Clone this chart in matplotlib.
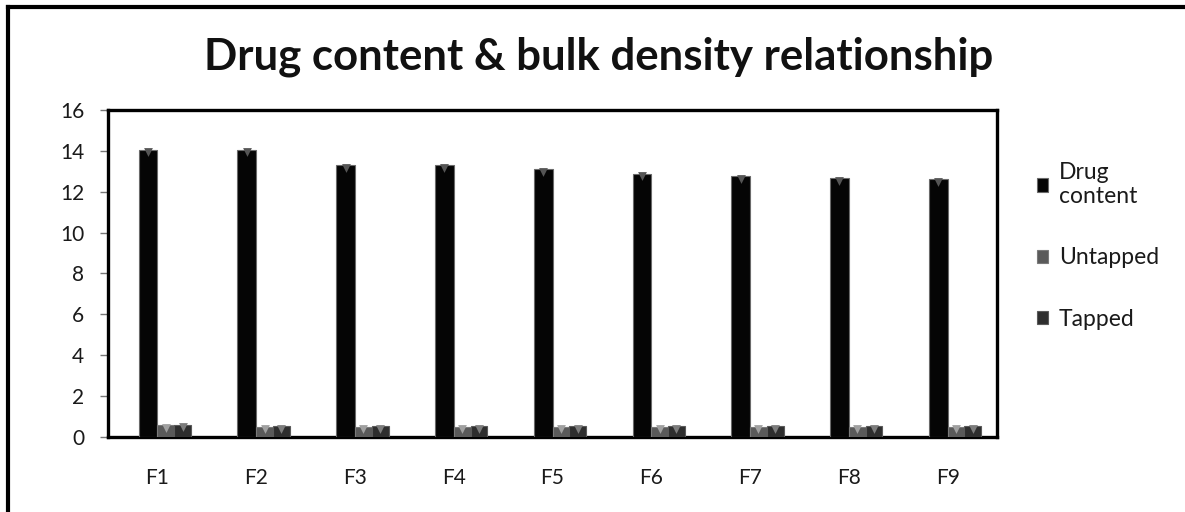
import numpy as np
import matplotlib
matplotlib.use('Agg')
import matplotlib.pyplot as plt
from matplotlib.lines import Line2D
from matplotlib.patches import Patch

# ---------------------------------------------------------
# Data
# ---------------------------------------------------------
formulations = ['F1', 'F2', 'F3', 'F4', 'F5', 'F6', 'F7', 'F8', 'F9']
drug_content = [14.05, 14.05, 13.3, 13.3, 13.1, 12.87, 12.75, 12.65, 12.6]
untapped = [0.58, 0.5, 0.5, 0.5, 0.5, 0.5, 0.5, 0.5, 0.5]
tapped = [0.6, 0.52, 0.52, 0.52, 0.52, 0.52, 0.52, 0.52, 0.52]
series_names = ['Drug\ncontent', 'Untapped', 'Tapped']
y_ticks = [0, 2, 4, 6, 8, 10, 12, 14, 16]

plt.rcParams['font.family'] = ['Lato', 'DejaVu Sans']

fig = plt.figure(figsize=(11.85, 5.12), dpi=100)
ax = fig.add_axes([0.0911, 0.1465, 0.7503, 0.6387])

x = np.arange(len(formulations))
w_main = 0.19
w_small = 0.17

# (face colour, edge colour, bevel colour) per series
styles = [('#050505', '#6a6a6a', '#555555'),
          ('#5a5a5a', '#7a7a7a', '#a0a0a0'),
          ('#2e2e2e', '#5a5a5a', '#7c7c7c')]

offsets = [-w_main / 2, w_small / 2, w_small * 1.5]
widths = [w_main, w_small, w_small]
for vals, off, wd, (fc, ec, bc) in zip([drug_content, untapped, tapped], offsets, widths, styles):
    ax.bar(x + off, vals, width=wd, color=fc, edgecolor=ec, linewidth=0.8, zorder=3)
    # little bevel triangle at the top of each bar
    ax.scatter(x + off, np.array(vals) - 0.12, marker='v', s=40, color=bc,
               linewidths=0, zorder=4)

ax.set_xlim(-0.5, len(formulations) - 0.5)
ax.set_ylim(0, 16)
ax.set_yticks(y_ticks)
ax.set_xticks(x)
ax.set_xticklabels(formulations)

for side in ['left', 'right', 'top', 'bottom']:
    ax.spines[side].set_linewidth(2.4)
    ax.spines[side].set_color('black')

ax.tick_params(axis='y', length=6, width=1, color='#777777', pad=11,
               labelsize=15, labelcolor='#1a1a1a')
ax.tick_params(axis='x', length=0, pad=22, labelsize=15, labelcolor='#1a1a1a')

fig.suptitle('Drug content & bulk density relationship', x=0.505, y=0.928,
             fontsize=31.5, fontweight='bold', color='#111111')

# legend on the right
handles = [Patch(facecolor=s[0], edgecolor=s[1], linewidth=0.8) for s in styles]
fig.legend(handles, series_names, loc='center left', bbox_to_anchor=(0.875, 0.52),
           frameon=False, fontsize=16.5, labelspacing=1.75, handlelength=0.5,
           handleheight=0.5, handletextpad=0.45, borderpad=0, borderaxespad=0,
           labelcolor='#1a1a1a')

# outer chart frame (only top and left edges are visible in the crop)
fig.add_artist(Line2D([0.0068, 0.0068], [0.0, 0.986], transform=fig.transFigure,
                      color='black', linewidth=3))
fig.add_artist(Line2D([0.0068, 1.0], [0.986, 0.986], transform=fig.transFigure,
                      color='black', linewidth=3))

fig.savefig('out.png', dpi=100)
